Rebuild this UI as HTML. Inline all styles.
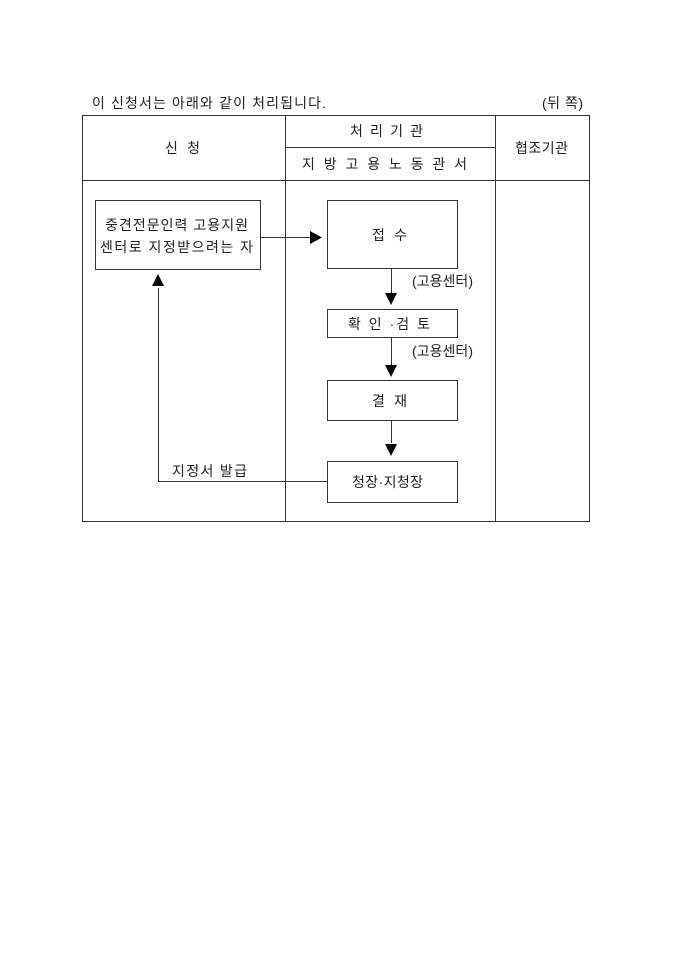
<!DOCTYPE html>
<html><head><meta charset="utf-8">
<style>
html,body{margin:0;padding:0;background:#fff;}
svg{display:block;}
text{font-family:"Liberation Sans","Noto Sans CJK KR","NanumGothic",sans-serif;fill:#222;font-size:14px;}
</style></head><body>
<svg width="680" height="962" viewBox="0 0 680 962" xmlns="http://www.w3.org/2000/svg">
<text x="92" y="108" textLength="234" lengthAdjust="spacing">이 신청서는 아래와 같이 처리됩니다.</text>
<text x="542" y="108" textLength="41" lengthAdjust="spacing">(뒤 쪽)</text>
<g stroke="#333" stroke-width="1" fill="none">
<rect x="82.5" y="115.5" width="507" height="406"/>
<line x1="285.5" y1="115" x2="285.5" y2="521"/>
<line x1="495.5" y1="115" x2="495.5" y2="521"/>
<line x1="82" y1="180.5" x2="589" y2="180.5"/>
<line x1="285" y1="147.5" x2="495" y2="147.5"/>
<rect x="95.5" y="200.5" width="165" height="69"/>
<rect x="327.5" y="200.5" width="130" height="68"/>
<rect x="327.5" y="309.5" width="130" height="28"/>
<rect x="327.5" y="380.5" width="130" height="40"/>
<rect x="327.5" y="461.5" width="130" height="41"/>
<line x1="260" y1="237.5" x2="310" y2="237.5"/>
<line x1="391.5" y1="268" x2="391.5" y2="293"/>
<line x1="391.5" y1="337" x2="391.5" y2="365"/>
<line x1="391.5" y1="420" x2="391.5" y2="443"/>
<polyline points="327,481.5 158.5,481.5 158.5,288"/>
</g>
<g fill="#000">
<polygon points="310,231 322,237.5 310,244"/>
<polygon points="385,293 397,293 391,305"/>
<polygon points="385,365 397,365 391,377"/>
<polygon points="385,444 397,444 391,456"/>
<polygon points="152,286 164,286 158,274"/>
</g>
<text x="165" y="153" textLength="35" lengthAdjust="spacing">신 청</text>
<text x="350" y="136" textLength="73" lengthAdjust="spacing">처 리 기 관</text>
<text x="302" y="169" textLength="165" lengthAdjust="spacing">지 방 고 용 노 동 관 서</text>
<text x="515" y="153" textLength="53" lengthAdjust="spacing">협조기관</text>
<text x="105" y="230" textLength="143" lengthAdjust="spacing">중견전문인력 고용지원</text>
<text x="100" y="252" textLength="153" lengthAdjust="spacing">센터로 지정받으려는 자</text>
<text x="372" y="240" textLength="35" lengthAdjust="spacing">접 수</text>
<text x="412" y="286" textLength="61" lengthAdjust="spacing">(고용센터)</text>
<text x="348" y="329" textLength="82" lengthAdjust="spacing">확 인 ·검 토</text>
<text x="412" y="356" textLength="61" lengthAdjust="spacing">(고용센터)</text>
<text x="372" y="406" textLength="35" lengthAdjust="spacing">결 재</text>
<text x="352" y="487" textLength="71" lengthAdjust="spacing">청장·지청장</text>
<text x="172" y="476" textLength="75" lengthAdjust="spacing">지정서 발급</text>
</svg>
</body></html>
